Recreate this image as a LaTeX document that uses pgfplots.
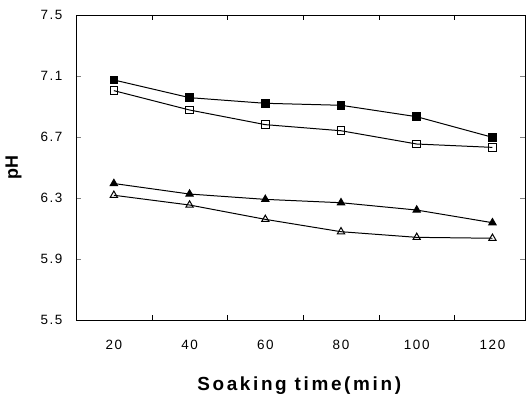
\documentclass[border=0pt]{standalone}
\usepackage{pgfplots}
\pgfplotsset{compat=1.18}
\usepackage{fontspec}
\setmainfont{Liberation Sans}
\begin{document}
\begin{tikzpicture}
\useasboundingbox (-76bp,-76bp) rectangle (455bp,320bp);
\begin{axis}[
  at={(0,0)}, anchor=south west,
  scale only axis, width=449bp, height=305bp,
  xmin=10, xmax=128.6, ymin=5.5, ymax=7.5,
  xtick={20,40,60,80,100,120},
  minor xtick={30,50,70,90,110},
  ytick={5.5,5.9,6.3,6.7,7.1,7.5},
  /pgf/number format/assume math mode=true,
  tick align=inside,
  major tick length=5bp,
  minor tick length=5bp,
  major x tick style={draw=none},
  minor x tick style={draw=black},
  ticklabel style={font=\fontsize{13.5}{15}\selectfont\addfontfeature{LetterSpace=12}},
  xticklabel style={yshift=-17bp},
  yticklabel style={/pgf/number format/fixed, /pgf/number format/fixed zerofill, /pgf/number format/precision=1, xshift=-10bp},
  axis line style={line width=0.9pt},
  xlabel={\textbf{Soaking time(min)}},
  ylabel={\textbf{pH}},
  xlabel style={font=\fontsize{19}{21}\selectfont\addfontfeature{LetterSpace=14}, yshift=-20bp},
  ylabel style={font=\fontsize{18}{20}\selectfont, yshift=12bp},
  every axis plot/.append style={black, line width=1pt, mark size=3.8bp},
]
\addplot[mark=square*, mark options={solid,fill=black}] coordinates {
(20,7.074) (40,6.958) (60,6.921) (80,6.908) (100,6.833) (120,6.698)};
\addplot[mark=square, mark options={solid, line width=1pt}] coordinates {
(20,7.004) (40,6.877) (60,6.781) (80,6.741) (100,6.654) (120,6.632)};
\addplot[mark=triangle*, mark options={solid,fill=black}, mark size=4.2bp] coordinates {
(20,6.395) (40,6.326) (60,6.291) (80,6.269) (100,6.221) (120,6.138)};
\addplot[mark=triangle, mark options={solid, line width=1pt}, mark size=4.2bp] coordinates {
(20,6.318) (40,6.254) (60,6.160) (80,6.079) (100,6.042) (120,6.036)};
\end{axis}
\end{tikzpicture}
\end{document}
